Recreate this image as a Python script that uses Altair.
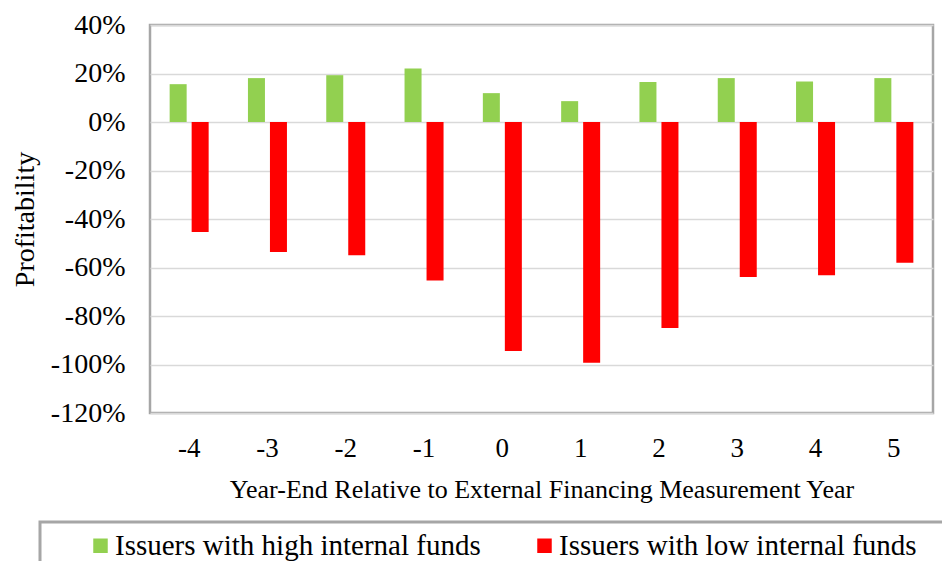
import altair as alt
import pandas as pd

years = ["-4", "-3", "-2", "-1", "0", "1", "2", "3", "4", "5"]
series = ["Issuers with high internal funds", "Issuers with low internal funds"]
high_funds = [15.6, 18.1, 19.3, 22.1, 11.9, 8.6, 16.5, 18.1, 16.7, 18.1]
low_funds = [-45.4, -53.6, -54.9, -65.4, -94.4, -99.3, -84.9, -63.9, -63.2, -58.0]
colors = ["#92d050", "#ff0000"]

rows = []
for y, h, l in zip(years, high_funds, low_funds):
    rows.append({"year": y, "series": series[0], "value": h / 100})
    rows.append({"year": y, "series": series[1], "value": l / 100})
df = pd.DataFrame(rows)

FONT = "Liberation Serif"

bars = alt.Chart(df).mark_bar().encode(
    x=alt.X(
        "year:N",
        sort=years,
        scale=alt.Scale(paddingInner=0, paddingOuter=0),
        axis=alt.Axis(
            title="Year-End Relative to External Financing Measurement Year",
            labelAngle=0,
            ticks=False,
            domain=False,
            labelPadding=22,
            labelFont=FONT,
            labelFontSize=27,
            titleFont=FONT,
            titleFontSize=26,
            titleFontWeight="normal",
            titleY=76,
            titleBaseline="middle",
            grid=False,
        ),
    ),
    xOffset=alt.XOffset(
        "series:N",
        sort=series,
        scale=alt.Scale(paddingInner=0.227, paddingOuter=0.893),
    ),
    y=alt.Y(
        "value:Q",
        scale=alt.Scale(domain=[-1.2, 0.4], nice=False),
        axis=alt.Axis(
            title="Profitability",
            values=[0.4, 0.2, 0, -0.2, -0.4, -0.6, -0.8, -1.0, -1.2],
            labelExpr="(datum.value < -0.0001 ? '-' : '') + format(round(abs(datum.value) * 100), 'd') + '%'",
            ticks=False,
            domain=False,
            labelPadding=25,
            labelFont=FONT,
            labelFontSize=28,
            titleFont=FONT,
            titleFontSize=28,
            titleFontWeight="normal",
            titleAngle=-90,
            titleX=-125,
            titleY=194,
            titleAlign="center",
            titleBaseline="middle",
        ),
    ),
    color=alt.Color(
        "series:N",
        scale=alt.Scale(domain=series, range=colors),
        legend=alt.Legend(
            title=None,
            orient="none",
            legendX=-64,
            legendY=506,
            direction="horizontal",
            columns=2,
            columnPadding=49,
            symbolType="square",
            symbolSize=210,
            symbolStrokeWidth=0,
            labelOffset=0,
            labelFont=FONT,
            labelFontSize=29,
            labelLimit=0,
            padding=0,
        ),
    ),
)

legend_box = alt.Chart(alt.Data(values=[{}])).mark_rect(
    fillOpacity=0, stroke="#a6a6a6", strokeWidth=3
).encode(
    x=alt.value(-110),
    x2=alt.value(900),
    y=alt.value(497),
    y2=alt.value(600),
)

chart = alt.layer(bars, legend_box).properties(
    width=783,
    height=388,
    autosize=alt.AutoSizeParams(type="none"),
    padding={"left": 142, "top": 17, "right": 9, "bottom": 148},
).configure(
    font=FONT,
).configure_view(
    stroke="#a6a6a6",
    strokeWidth=2.5,
).configure_axis(
    gridColor="#d9d9d9",
    gridWidth=1.5,
    labelColor="#000000",
    titleColor="#000000",
    labelFont=FONT,
    titleFont=FONT,
).configure_legend(
    labelFont=FONT,
    labelColor="#000000",
)

chart.save("out.html", embed_options={"renderer": "svg", "actions": False})
